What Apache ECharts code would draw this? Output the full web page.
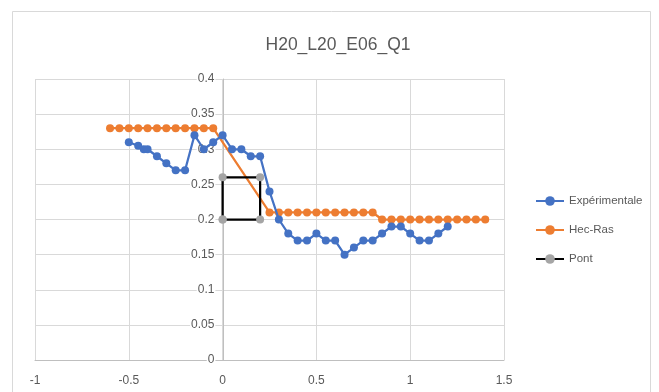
<!DOCTYPE html>
<html>
<head>
<meta charset="utf-8">
<script src="https://cdn.jsdelivr.net/npm/echarts@6/dist/echarts.min.js"></script>
<style>
html,body{margin:0;padding:0;background:#fff;}
#chart{width:659px;height:392px;}
</style>
</head>
<body>
<div id="chart"></div>
<script>
var titleText = 'H20_L20_E06_Q1';
var seriesNames = ['Expérimentale', 'Hec-Ras', 'Pont'];

var expX = [-0.5, -0.45, -0.42, -0.4, -0.35, -0.3, -0.25, -0.2, -0.15, -0.1, -0.05, 0,
            0.05, 0.1, 0.15, 0.2, 0.25, 0.3, 0.35, 0.4, 0.45, 0.5, 0.55, 0.6, 0.65, 0.7,
            0.75, 0.8, 0.85, 0.9, 0.95, 1.0, 1.05, 1.1, 1.15, 1.2];
var expY = [0.31, 0.305, 0.30, 0.30, 0.29, 0.28, 0.27, 0.27, 0.32, 0.30, 0.31, 0.32,
            0.30, 0.30, 0.29, 0.29, 0.24, 0.20, 0.18, 0.17, 0.17, 0.18, 0.17, 0.17, 0.15, 0.16,
            0.17, 0.17, 0.18, 0.19, 0.19, 0.18, 0.17, 0.17, 0.18, 0.19];

var hecX = [-0.6, -0.55, -0.5, -0.45, -0.4, -0.35, -0.3, -0.25, -0.2, -0.15, -0.1, -0.05,
            0.25, 0.3, 0.35, 0.4, 0.45, 0.5, 0.55, 0.6, 0.65, 0.7, 0.75, 0.8,
            0.85, 0.9, 0.95, 1.0, 1.05, 1.1, 1.15, 1.2, 1.25, 1.3, 1.35, 1.4];
var hecY = [0.33, 0.33, 0.33, 0.33, 0.33, 0.33, 0.33, 0.33, 0.33, 0.33, 0.33, 0.33,
            0.21, 0.21, 0.21, 0.21, 0.21, 0.21, 0.21, 0.21, 0.21, 0.21, 0.21, 0.21,
            0.20, 0.20, 0.20, 0.20, 0.20, 0.20, 0.20, 0.20, 0.20, 0.20, 0.20, 0.20];

var pontX = [0, 0, 0.2, 0.2, 0];
var pontY = [0.2, 0.26, 0.26, 0.2, 0.2];

function pairs(xs, ys) {
  return xs.map(function (x, i) { return [x, ys[i]]; });
}

var chart = echarts.init(document.getElementById('chart'), null, {renderer: 'canvas'});
var FONT = '"Liberation Sans", "Noto Sans", sans-serif';
var TXT = '#595959';
var GRID_LEFT = 35;

chart.setOption({
  backgroundColor: '#fff',
  animation: false,
  textStyle: {fontFamily: FONT},
  graphic: [{
    type: 'rect',
    shape: {x: 12.5, y: 11.5, width: 638, height: 390},
    style: {fill: 'none', stroke: '#d9d9d9', lineWidth: 1},
    silent: true, z: -10
  }],
  title: {
    text: titleText,
    left: 333, top: 31, textAlign: 'center',
    textStyle: {fontSize: 17.5, fontWeight: 'normal', color: TXT, fontFamily: FONT}
  },
  legend: {
    orient: 'vertical',
    left: 530, top: 190,
    itemGap: 17, itemWidth: 28, itemHeight: 12,
    textStyle: {fontSize: 11.5, color: TXT, fontFamily: FONT},
    data: seriesNames
  },
  grid: {left: GRID_LEFT, right: 155, top: 79, bottom: 32, containLabel: false},
  xAxis: {
    type: 'value', min: -1, max: 1.5, interval: 0.5,
    axisLine: {show: true, onZero: false, lineStyle: {color: '#bfbfbf', width: 1}},
    axisTick: {show: false},
    axisLabel: {color: TXT, fontSize: 12, margin: 15, fontFamily: FONT},
    splitLine: {show: true, lineStyle: {color: '#d9d9d9', width: 1}}
  },
  yAxis: {
    type: 'value', min: 0, max: 0.4, interval: 0.05, position: 'left', offset: 0,
    axisLine: {show: true, onZero: false, lineStyle: {color: '#bfbfbf', width: 1}},
    axisTick: {show: false},
    axisLabel: {color: TXT, fontSize: 12, margin: 8, fontFamily: FONT,
                backgroundColor: '#fff', padding: [0, 1]},
    splitLine: {show: true, lineStyle: {color: '#d9d9d9', width: 1}}
  },
  series: [
    {
      name: seriesNames[0], type: 'line', data: pairs(expX, expY),
      symbol: 'circle', symbolSize: 8,
      lineStyle: {color: '#4472C4', width: 2.25},
      itemStyle: {color: '#4472C4'}, z: 3
    },
    {
      name: seriesNames[1], type: 'line', data: pairs(hecX, hecY),
      symbol: 'circle', symbolSize: 8,
      lineStyle: {color: '#ED7D31', width: 2.25},
      itemStyle: {color: '#ED7D31'}, z: 2
    },
    {
      name: seriesNames[2], type: 'line', data: pairs(pontX, pontY),
      symbol: 'circle', symbolSize: 8,
      lineStyle: {color: '#000000', width: 2.25},
      itemStyle: {color: '#A5A5A5'}, z: 4
    }
  ]
});

// Place the y axis (line + labels) where x = 0, as in the reference.
var zeroPx = chart.convertToPixel({xAxisIndex: 0}, 0);
chart.setOption({yAxis: {offset: -(zeroPx - GRID_LEFT)}});
</script>
</body>
</html>
